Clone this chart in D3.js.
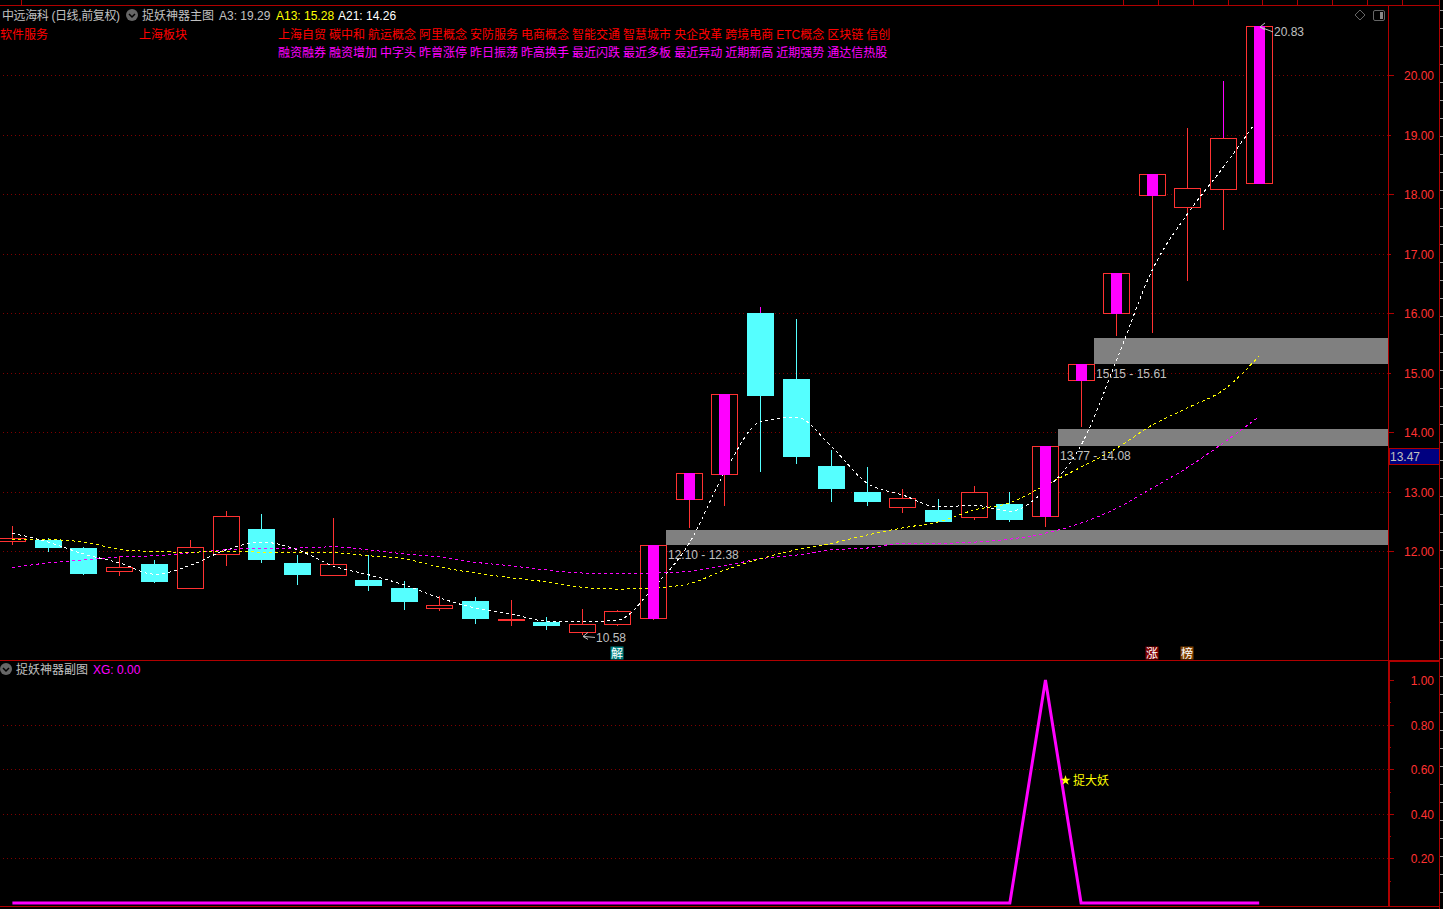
<!DOCTYPE html>
<html>
<head>
<meta charset="utf-8">
<script src="https://cdn.jsdelivr.net/npm/d3@7"></script>
<style>
  html, body { margin: 0; padding: 0; background: #000; overflow: hidden; }
  svg { display: block; }
  text { font-family: "Liberation Sans", "Noto Sans CJK SC", sans-serif; font-size: 12px; }
</style>
</head>
<body>
<div id="chart"></div>
<script>
// daily bars
const openPrices = [12.17,12.19,12.05,11.67,11.78,11.38,11.95,12.37,11.80,11.60,11.51,11.38,11.04,11.16,10.84,10.81,10.64,10.77,10.87,12.87,13.30,16.00,14.89,13.43,12.99,12.74,12.69,12.57,12.79,12.59,14.88,16.00,17.99,17.79,18.09,18.19];
const closePrices = [12.22,12.05,11.61,11.73,11.48,12.07,12.59,11.85,11.60,11.78,11.41,11.14,11.09,10.86,10.86,10.74,10.77,10.99,12.10,13.31,14.64,14.61,13.58,13.04,12.82,12.89,12.49,12.99,12.52,13.77,15.15,16.68,18.34,18.11,18.95,20.83];
const highPrices = [12.42,12.22,12.07,11.92,11.85,12.19,12.67,12.62,11.93,12.56,11.93,11.50,11.24,11.23,11.18,10.89,11.02,11.01,12.10,13.31,14.64,16.10,15.90,13.70,13.41,13.04,12.87,13.09,12.99,13.77,15.15,16.68,18.34,19.11,19.90,20.83];
const lowPrices = [12.10,11.98,11.60,11.58,11.46,11.38,11.75,11.80,11.43,11.60,11.33,11.01,10.99,10.77,10.74,10.67,10.58,10.74,10.84,12.38,12.76,13.33,13.46,12.82,12.76,12.64,12.49,12.52,12.49,12.40,14.08,15.61,15.67,16.54,17.40,18.19];
// limit-up days get the magenta bar inside the red box
const limitUpDays = [18,19,20,29,30,31,32,35];
const magentaWickDays = [21,34];

const a3Values = [12.30,12.15,11.95,11.80,11.61,11.76,12.02,12.15,12.02,11.75,11.60,11.43,11.21,11.04,10.94,10.82,10.81,10.84,11.39,12.13,13.33,14.17,14.25,13.75,13.14,12.94,12.74,12.77,12.67,13.03,13.78,15.21,16.73,17.68,18.46,19.29];
const a13Values = [12.19,12.19,12.15,12.03,11.99,11.98,12.00,11.98,11.97,11.97,11.92,11.87,11.73,11.63,11.55,11.48,11.39,11.36,11.38,11.45,11.68,11.87,12.02,12.13,12.27,12.39,12.49,12.69,12.81,13.11,13.41,13.73,14.12,14.41,14.71,15.28];
const a21Values = [11.72,11.80,11.85,11.90,11.92,11.97,12.02,12.05,12.05,12.07,12.02,11.95,11.90,11.81,11.75,11.68,11.63,11.63,11.63,11.66,11.75,11.87,11.93,12.02,12.05,12.13,12.13,12.15,12.20,12.30,12.47,12.72,13.06,13.41,13.82,14.26];
const xgValues = [0,0,0,0,0,0,0,0,0,0,0,0,0,0,0,0,0,0,0,0,0,0,0,0,0,0,0,0,0,1,0,0,0,0,0,0];

const priceTicks = [12,13,14,15,16,17,18,19,20];
const subTicks = [0.2,0.4,0.6,0.8,1.0];
const subMinorTicks = [0.1,0.3,0.5,0.7,0.9];

// price gaps: first day after which the band starts, low, high
const gapDays = [18,29,30];
const gapLows = [12.10,13.77,15.15];
const gapHighs = [12.38,14.08,15.61];

const tagsRed = ["上海自贸","碳中和","航运概念","阿里概念","安防服务","电商概念","智能交通","智慧城市","央企改革","跨境电商","ETC概念","区块链","信创"];
const tagsMagenta = ["融资融券","融资增加","中字头","昨曾涨停","昨日振荡","昨高换手","最近闪跌","最近多板","最近异动","近期新高","近期强势","通达信热股"];
const eventDays = [17,32,33];
const eventLabels = ["解","涨","榜"];
const eventColors = ["#008080","#800000","#804000"];
const headerStubs = [21,1123,1158,1193,1228,1262,1297,1332,1367,1402];

const RED = "#ff3232", AXIS = "#b00000", GRID = "#800000", GREY = "#c0c0c0", CYAN = "#55ffff", MAGENTA = "#ff00ff";
const width = 1443, height = 909, axisX = 1388, rightX = 1439;

var svg = d3.select("#chart").append("svg")
    .attr("width", width)
    .attr("height", height)
    .style("background", "#000");

var x = d3.scaleLinear().domain([0, 35]).range([12.4, 1259.2]);
var y = d3.scaleLinear().domain([12, 20]).range([551, 75.3]);
var ySub = d3.scaleLinear().domain([0, 1]).range([903, 680]);
var cx = i => Math.floor(x(i));
var px = v => Math.round(v) + 0.5;
var days = d3.range(openPrices.length);

// frame
var frame = svg.append("g").attr("shape-rendering", "crispEdges").attr("stroke", AXIS).attr("fill", "none");
function hline(g, x1, x2, yy, color) {
    g.append("line").attr("x1", x1).attr("x2", x2).attr("y1", yy).attr("y2", yy).attr("stroke", color);
}
function vline(g, xx, y1, y2, color) {
    g.append("line").attr("x1", xx).attr("x2", xx).attr("y1", y1).attr("y2", y2).attr("stroke", color);
}
hline(frame, 0, rightX, 5.5, AXIS);
hline(frame, 0, rightX, 660.5, AXIS);
hline(frame, axisX, rightX, 661.5, AXIS);
hline(frame, 0, rightX, 906.5, AXIS);
vline(frame, axisX + 0.5, 5, 907, AXIS);
vline(frame, axisX + 1.5, 661, 907, AXIS);
vline(frame, rightX + 0.5, 0, 909, AXIS);
headerStubs.forEach(s => vline(frame, s + 0.5, 0, 5, AXIS));
d3.range(10, 909, 18).forEach(t => hline(frame, rightX + 1, width, t + 0.5, "#a0a0a0"));

// grid
var grid = svg.append("g").attr("shape-rendering", "crispEdges");
function gridLines(data, scale) {
    grid.selectAll(null).data(data).enter().append("line")
        .attr("x1", 3).attr("x2", axisX)
        .attr("y1", d => px(scale(d))).attr("y2", d => px(scale(d)))
        .attr("stroke", GRID).attr("stroke-dasharray", "1 3");
}
gridLines(priceTicks, y);
gridLines(subTicks.filter(d => d < 1), ySub);

// gap bands, the top edge sits 2px under the printed high in the picture
svg.append("g").selectAll("rect").data(gapDays).enter().append("rect")
    .attr("x", d => cx(d) + 13)
    .attr("y", (d, i) => Math.round(y(gapHighs[i])) + 2)
    .attr("width", d => axisX - cx(d) - 13)
    .attr("height", (d, i) => Math.round(y(gapLows[i])) - Math.round(y(gapHighs[i])) - 2)
    .attr("shape-rendering", "crispEdges")
    .attr("fill", "#808080");

// candles
var candles = svg.append("g").attr("shape-rendering", "crispEdges");
var isUp = i => closePrices[i] >= openPrices[i];
candles.selectAll(".wick").data(days).enter().append("line")
    .attr("class", "wick")
    .attr("x1", d => cx(d) + 0.5).attr("x2", d => cx(d) + 0.5)
    .attr("y1", d => y(highPrices[d])).attr("y2", d => y(lowPrices[d]))
    .attr("stroke", d => isUp(d) ? RED : CYAN);
// upper wick of these is magenta in the picture
candles.selectAll(".wickTop").data(magentaWickDays).enter().append("line")
    .attr("class", "wickTop")
    .attr("x1", d => cx(d) + 0.5).attr("x2", d => cx(d) + 0.5)
    .attr("y1", d => y(highPrices[d])).attr("y2", d => y(Math.max(openPrices[d], closePrices[d])))
    .attr("stroke", MAGENTA);
candles.selectAll(".body").data(days).enter().append("rect")
    .attr("class", "body")
    .attr("x", d => isUp(d) ? cx(d) - 12.5 : cx(d) - 13)
    .attr("y", d => {
        var t = y(Math.max(openPrices[d], closePrices[d]));
        return isUp(d) ? px(t) : Math.round(t);
    })
    .attr("width", d => isUp(d) ? 26 : 27)
    .attr("height", d => Math.max(1, Math.round(y(Math.min(openPrices[d], closePrices[d])) - y(Math.max(openPrices[d], closePrices[d])))))
    .attr("fill", d => isUp(d) ? "#000" : CYAN)
    .attr("stroke", d => isUp(d) ? RED : "none");

// moving averages
var lineGen = d3.line().x((d, i) => x(i)).y(d => y(d)).curve(d3.curveMonotoneX);
[[a21Values, MAGENTA], [a13Values, "#ffff00"], [a3Values, "#ffffff"]].forEach(function(s) {
    svg.append("path")
        .datum(s[0])
        .attr("d", lineGen)
        .attr("fill", "none")
        .attr("stroke", s[1])
        .attr("stroke-width", 1)
        .attr("stroke-dasharray", "3 3")
        .attr("shape-rendering", "crispEdges");
});

// limit-up bars sit on top of the averages
svg.append("g").selectAll("rect").data(limitUpDays).enter().append("rect")
    .attr("x", d => cx(d) - 5)
    .attr("y", d => Math.round(y(closePrices[d])))
    .attr("width", 11)
    .attr("height", d => Math.round(y(openPrices[d])) - Math.round(y(closePrices[d])) + 1)
    .attr("shape-rendering", "crispEdges")
    .attr("fill", MAGENTA);

// gap labels
svg.append("g").selectAll("text").data(gapDays).enter().append("text")
    .attr("x", d => cx(d) + 15)
    .attr("y", (d, i) => y(gapLows[i]) + 10)
    .attr("dy", "0.35em")
    .attr("fill", GREY)
    .text((d, i) => d3.format(".2f")(gapLows[i]) + " - " + d3.format(".2f")(gapHighs[i]));

// high / low arrows
function priceArrow(day, price, dx1, dy1, dx2, dy2) {
    var g = svg.append("g").attr("stroke", GREY).attr("fill", "none");
    var ax = cx(day) + dx1, ay = y(price) + dy1;
    g.append("path").attr("d", "M" + (ax + 5) + "," + (ay - 4) + "L" + ax + "," + ay + "L" + (ax + 5) + "," + (ay + 3) + "M" + ax + "," + ay + "L" + (cx(day) + dx2) + "," + (y(price) + dy2));
    svg.append("text").attr("x", cx(day) + dx2 + 1).attr("y", y(price) + dy2).attr("dy", "0.35em")
        .attr("fill", GREY).text(d3.format(".2f")(price));
}
priceArrow(16, 10.58, 1, 1, 13, 2);
priceArrow(35, 20.83, 1, 1, 14, 6);

// event marks above the lower pane
var events = svg.append("g").selectAll("g").data(eventDays).enter().append("g")
    .attr("transform", d => "translate(" + cx(d) + ",653)");
events.append("rect").attr("x", -6.5).attr("y", -6.5).attr("width", 13).attr("height", 13)
    .attr("fill", (d, i) => eventColors[i]);
events.append("text").attr("text-anchor", "middle").attr("dy", "0.38em").attr("fill", "#fff")
    .text((d, i) => eventLabels[i]);

// lower pane
var xgLine = d3.line().x((d, i) => x(i)).y(d => ySub(d));
svg.append("path").datum(xgValues).attr("d", xgLine)
    .attr("fill", "none").attr("stroke", MAGENTA).attr("stroke-width", 3);
svg.append("path")
    .attr("d", d3.symbol().type(d3.symbolStar).size(32))
    .attr("transform", "translate(" + (cx(29) + 20.5) + "," + ySub(0.55) + ")")
    .attr("fill", "#ffff00");
svg.append("text").attr("x", cx(29) + 28).attr("y", ySub(0.55)).attr("dy", "0.38em")
    .attr("fill", "#ffff00").text("捉大妖");

// axes
function styleAxis(g) {
    g.select(".domain").remove();
    g.selectAll("line").attr("stroke", AXIS).attr("shape-rendering", "crispEdges");
    g.selectAll("text").attr("x", 1434 - axisX).attr("y", 1).attr("text-anchor", "end").attr("fill", RED).style("font-size", "12px");
}
var priceAxis = d3.axisRight(y).tickValues(priceTicks).tickSize(6).tickFormat(d3.format(".2f"));
var priceG = svg.append("g").attr("transform", "translate(" + axisX + ",0)").call(priceAxis).call(styleAxis);
priceG.selectAll(".tick").attr("transform", d => "translate(0," + px(y(d)) + ")");
priceG.selectAll(".tick line").attr("x2", d => d % 2 === 0 ? 6 : 3);

var subAxis = d3.axisRight(ySub).tickValues(subTicks).tickSize(6).tickFormat(d3.format(".2f"));
var subG = svg.append("g").attr("transform", "translate(" + axisX + ",0)").call(subAxis).call(styleAxis);
subG.selectAll(".tick").attr("transform", d => "translate(0," + px(ySub(d)) + ")");
svg.append("g").selectAll("line").data(subMinorTicks).enter().append("line")
    .attr("x1", axisX).attr("x2", axisX + 3)
    .attr("y1", d => px(ySub(d))).attr("y2", d => px(ySub(d)))
    .attr("stroke", AXIS).attr("shape-rendering", "crispEdges");

// last price tag
svg.append("rect").attr("x", axisX + 1.5).attr("y", 448.5).attr("width", rightX - axisX - 1).attr("height", 16)
    .attr("fill", "#000080").attr("stroke", AXIS).attr("shape-rendering", "crispEdges");
svg.append("text").attr("x", 1390).attr("y", 456.5).attr("dy", "0.35em").attr("fill", GREY).text("13.47");

// header texts
function label(tx, ty, color, str) {
    return svg.append("text").attr("x", tx).attr("y", ty).attr("dy", "0.38em").attr("fill", color).text(str);
}
function collapseIcon(ix, iy) {
    svg.append("circle").attr("cx", ix).attr("cy", iy).attr("r", 6).attr("fill", "#666");
    svg.append("path").attr("d", "M" + (ix - 3) + "," + (iy - 1) + "L" + ix + "," + (iy + 2) + "L" + (ix + 3) + "," + (iy - 1))
        .attr("fill", "none").attr("stroke", "#000").attr("stroke-width", 1.5);
}
label(2, 15, GREY, "中远海科 (日线,前复权)").attr("textLength", 118);
collapseIcon(132, 15);
label(142, 15, GREY, "捉妖神器主图");
label(219, 15, GREY, "A3: 19.29");
label(276, 15, "#ffff00", "A13: 15.28");
label(338, 15, "#ffffff", "A21: 14.26");
label(0, 34, "#ff0000", "软件服务");
label(139, 34, "#ff0000", "上海板块");

function tagRow(tags, ty, color) {
    var cursor = 278;
    tags.forEach(function(t) {
        var node = label(cursor, ty, color, t);
        cursor += node.node().getComputedTextLength() + 3;
    });
}
tagRow(tagsRed, 34, "#ff0000");
tagRow(tagsMagenta, 52, MAGENTA);

collapseIcon(6, 669);
label(16, 669, GREY, "捉妖神器副图");
label(93, 669, MAGENTA, "XG: 0.00");

// little window icons top right
svg.append("path").attr("d", "M1360,10L1365,15L1360,20L1355,15Z").attr("fill", "none").attr("stroke", "#666");
svg.append("rect").attr("x", 1373.5).attr("y", 10.5).attr("width", 11).attr("height", 10).attr("rx", 1.5)
    .attr("fill", "none").attr("stroke", "#666");
svg.append("rect").attr("x", 1380).attr("y", 12).attr("width", 3).attr("height", 7).attr("fill", "#888");
</script>
</body>
</html>
